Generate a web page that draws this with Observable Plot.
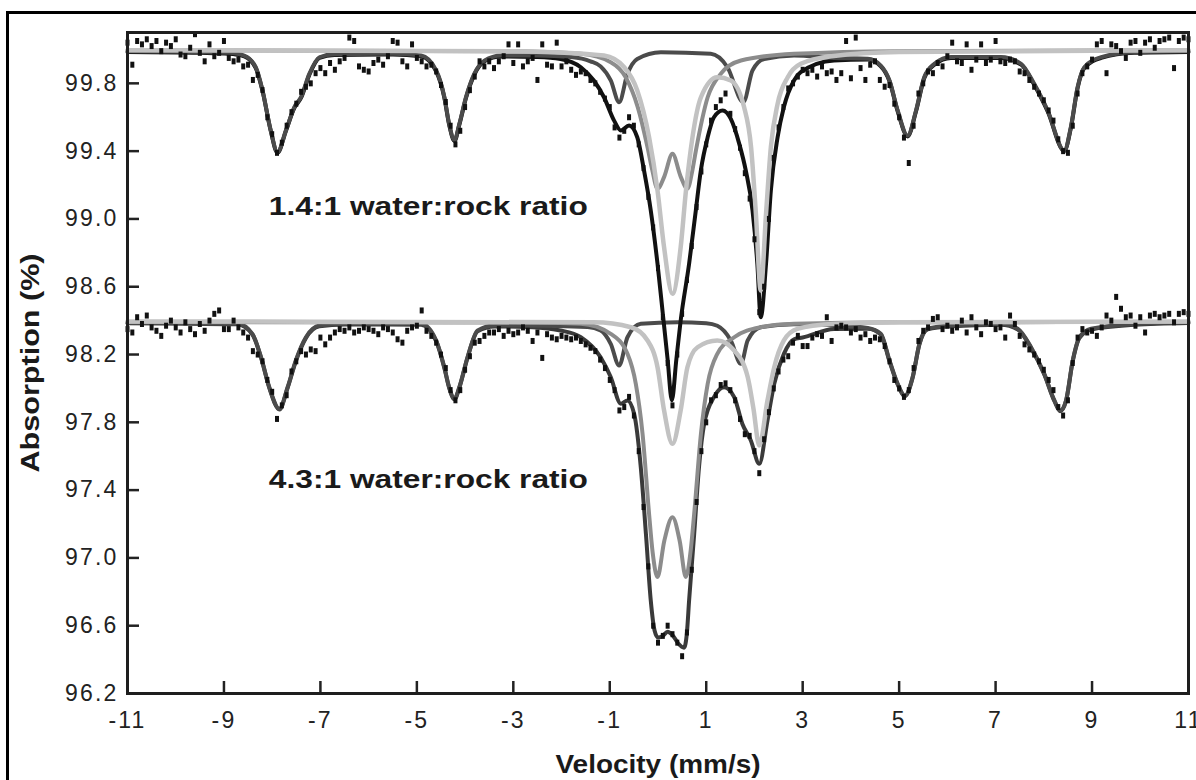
<!DOCTYPE html>
<html>
<head>
<meta charset="utf-8">
<script src="https://cdn.jsdelivr.net/npm/d3@7"></script>
<script src="https://cdn.jsdelivr.net/npm/@observablehq/plot@0.6"></script>
<style>
  html, body { margin: 0; padding: 0; background: #fff; overflow: hidden; width: 1196px; height: 780px; }
  #wrap { position: relative; width: 1196px; height: 780px; }
  #outer { position: absolute; left: 6px; top: 11px; width: 1220px; height: 800px; border: 3px solid #000; box-sizing: border-box; }
  #chart { position: absolute; left: 0; top: 0; }
  #chart svg { font-family: "Liberation Sans", Arial, sans-serif; }
  #chart g[aria-label="x-axis tick label"] text, #chart g[aria-label="y-axis tick label"] text { letter-spacing: 2.2px; }
</style>
</head>
<body>
<div id="wrap"><div id="outer"></div><div id="chart"></div></div>
<script>
// ---- Axis ticks ----
const xTicks = [-11, -9, -7, -5, -3, -1, 1, 3, 5, 7, 9, 11];
const yTicks = [96.2, 96.6, 97.0, 97.4, 97.8, 98.2, 98.6, 99.0, 99.4, 99.8];

// ---- Channel velocities (mm/s) of the measured points: -11 ... 11 in 0.1 steps ----
const velocity = d3.range(221).map(i => Math.round((-11 + i * 0.1) * 10) / 10);

// ---- Measured absorption (%), 1.4:1 water:rock ratio ----
const absorption14 = [
  100.04, 99.91, 100.05, 100.03, 100.06, 100.02, 100.05, 99.99, 100.04, 100.02, 100.06, 99.97, 99.96, 100.01, 100.09, 99.98, 99.93, 100.03, 99.96, 99.98, 100.05,
  99.95, 99.93, 99.94, 99.90, 99.91, 99.82, 99.85, 99.76, 99.60, 99.50,
  99.39, 99.45, 99.55, 99.63, 99.68, 99.75, 99.78, 99.80, 99.86, 99.89,
  99.86, 99.92, 99.88, 99.93, 99.95, 100.07, 100.05, 99.90, 99.88, 99.87, 99.92, 99.94, 99.91, 99.96, 100.05, 100.04, 99.93, 99.90, 100.03, 99.95,
  99.93, 99.90, 99.91, 99.87, 99.79, 99.69, 99.55, 99.44, 99.52, 99.66, 99.76, 99.84, 99.93, 99.90, 99.93,
  99.89, 99.93, 99.96, 100.03, 99.92, 100.03, 99.90, 99.93, 99.95, 99.82, 100.03, 99.91, 99.90, 100.04, 99.90,
  99.93, 99.88, 99.85, 99.87, 99.86, 99.82, 99.80, 99.75, 99.71, 99.66,
  99.54, 99.48, 99.52, 99.60, 99.55, 99.44, 99.30, 99.13, 98.95, 98.71,
  98.42, 98.15, 97.90, 98.20, 98.44, 98.64, 98.84, 99.07, 99.28, 99.44,
  99.58, 99.66, 99.70, 99.74, 99.62, 99.53, 99.42, 99.27, 99.12, 98.88,
  98.45, 98.60, 99.00, 99.36, 99.54, 99.66, 99.77, 99.80, 99.84, 99.88,
  99.86, 99.88, 99.84, 99.90, 99.86, 99.87, 99.82, 99.86, 100.05, 99.83, 100.07, 99.89, 99.82, 99.91, 99.93, 99.82, 99.78, 99.79, 99.68, 99.60,
  99.48, 99.33, 99.55, 99.74, 99.80, 99.87, 99.86, 99.92, 99.90, 99.96,
  100.04, 99.93, 99.92, 100.03, 99.88, 99.94, 100.03, 99.92, 99.94, 100.05, 99.93, 99.92, 99.94, 99.93, 99.87,
  99.86, 99.82, 99.78, 99.74, 99.70, 99.64, 99.58, 99.47, 99.40, 99.39, 99.55, 99.74, 99.86, 99.90, 99.94,
  100.03, 100.05, 99.86, 100.03, 100.02, 99.99, 99.95, 100.04, 100.05, 99.98, 100.04, 100.06, 100.01, 100.05, 100.06, 100.07, 99.89, 100.05, 100.07, 100.06
];

// ---- Measured absorption (%), 4.3:1 water:rock ratio ----
const absorption43 = [
  98.35, 98.33, 98.42, 98.38, 98.43, 98.36, 98.34, 98.31, 98.37, 98.40, 98.36, 98.33, 98.39, 98.35, 98.32, 98.38, 98.34, 98.40, 98.44, 98.46, 98.35,
  98.35, 98.40, 98.36, 98.33, 98.30, 98.22, 98.20, 98.16, 98.05, 97.98,
  97.82, 97.90, 97.96, 98.10, 98.16, 98.22, 98.20, 98.23, 98.22, 98.30,
  98.26, 98.30, 98.33, 98.35, 98.34, 98.36, 98.33, 98.34, 98.36, 98.35, 98.34, 98.32, 98.36, 98.35, 98.33, 98.29, 98.27, 98.34, 98.36, 98.37,
  98.46, 98.34, 98.31, 98.27, 98.20, 98.12, 97.99, 97.93, 97.99, 98.11, 98.19, 98.27, 98.28, 98.31, 98.33,
  98.33, 98.35, 98.31, 98.34, 98.32, 98.33, 98.36, 98.34, 98.28, 98.33, 98.18, 98.32, 98.30, 98.29, 98.31,
  98.30, 98.29, 98.30, 98.28, 98.26, 98.24, 98.22, 98.17, 98.12, 98.05,
  97.99, 97.87, 97.89, 97.95, 97.84, 97.63, 97.30, 96.95, 96.60, 96.50,
  96.54, 96.60, 96.55, 96.50, 96.42, 96.56, 96.93, 97.33, 97.63, 97.80,
  97.93, 97.96, 98.02, 98.03, 97.99, 97.93, 97.82, 97.73, 97.72, 97.63,
  97.50, 97.70, 97.86, 98.00, 98.10, 98.17, 98.19, 98.27, 98.31, 98.25,
  98.25, 98.30, 98.32, 98.31, 98.42, 98.28, 98.36, 98.37, 98.36, 98.33, 98.35, 98.30, 98.32, 98.28, 98.30, 98.29,
  98.25, 98.16, 98.05, 98.00, 97.95, 97.99, 98.12, 98.28, 98.34, 98.36, 98.41, 98.42, 98.35, 98.37,
  98.34, 98.36, 98.40, 98.33, 98.42, 98.36, 98.32, 98.39, 98.38, 98.35, 98.36, 98.30, 98.43, 98.38,
  98.31, 98.26, 98.23, 98.20, 98.16, 98.11, 98.05, 97.99, 97.89, 97.84, 97.93, 98.15, 98.30, 98.35, 98.33, 98.34,
  98.31, 98.36, 98.43, 98.40, 98.54, 98.47, 98.42, 98.43, 98.37, 98.42, 98.33, 98.43, 98.44, 98.42, 98.43, 98.44, 98.39, 98.44, 98.45, 98.44
];

// ---- Fitted curves: [velocity, absorption] ----
const fitTotal14 = [[-11,99.985],[-9.5,99.98],[-8.9,99.975],[-8.58,99.96],[-8.34,99.89],[-8.2,99.755],[-8.03,99.52],[-7.89,99.39],[-7.715,99.52],[-7.54,99.655],[-7.4,99.715],[-7.23,99.85],[-7.02,99.95],[-6.71,99.967],[-5.5,99.97],[-4.91,99.96],[-4.6,99.87],[-4.43,99.715],[-4.33,99.555],[-4.22,99.46],[-4.12,99.555],[-3.98,99.715],[-3.81,99.85],[-3.6,99.93],[-3.25,99.958],[-2.5,99.955],[-2.02,99.944],[-1.6,99.895],[-1.33,99.817],[-1.12,99.718],[-0.91,99.58],[-0.77,99.522],[-0.6,99.551],[-0.43,99.482],[-0.29,99.286],[-0.15,99.05],[-0.01,98.735],[0.1,98.44],[0.2,98.17],[0.287,97.93],[0.38,98.17],[0.47,98.4],[0.645,98.735],[0.784,99.05],[0.888,99.286],[1.03,99.482],[1.16,99.6],[1.34,99.64],[1.51,99.59],[1.685,99.443],[1.82,99.286],[1.96,99.05],[2.06,98.735],[2.13,98.42],[2.24,98.735],[2.34,99.168],[2.48,99.482],[2.61,99.66],[2.82,99.817],[2.96,99.866],[3.65,99.935],[4.35,99.94],[4.62,99.9],[4.8,99.812],[4.97,99.635],[5.176,99.487],[5.35,99.635],[5.52,99.83],[5.73,99.91],[6.075,99.95],[7.11,99.95],[7.53,99.91],[7.8,99.792],[8.08,99.635],[8.425,99.4],[8.56,99.536],[8.7,99.772],[8.84,99.89],[9.19,99.95],[9.87,99.98],[11,99.985]];
const sextet14 = [[-11,99.99],[-9.5,99.985],[-8.9,99.98],[-8.58,99.964],[-8.34,99.895],[-8.2,99.758],[-8.03,99.522],[-7.89,99.394],[-7.715,99.522],[-7.54,99.66],[-7.4,99.72],[-7.23,99.856],[-7.02,99.954],[-6.71,99.972],[-5.5,99.975],[-4.91,99.964],[-4.6,99.876],[-4.43,99.72],[-4.33,99.561],[-4.22,99.465],[-4.12,99.56],[-3.98,99.72],[-3.81,99.856],[-3.6,99.934],[-3.25,99.964],[-2.5,99.965],[-1.8,99.955],[-1.4,99.93],[-1.19,99.9],[-0.98,99.817],[-0.806,99.689],[-0.633,99.856],[-0.43,99.944],[0.06,99.984],[1.095,99.974],[1.44,99.895],[1.77,99.689],[1.96,99.876],[2.2,99.944],[2.82,99.965],[3.65,99.95],[4.35,99.945],[4.62,99.905],[4.8,99.817],[4.97,99.64],[5.176,99.492],[5.35,99.64],[5.52,99.836],[5.73,99.915],[6.075,99.955],[7.11,99.955],[7.53,99.915],[7.8,99.797],[8.08,99.64],[8.425,99.404],[8.56,99.541],[8.7,99.777],[8.84,99.895],[9.19,99.955],[9.87,99.984],[11,99.99]];
const doubletA14 = [[-11,99.995],[-3,99.99],[-1.6,99.974],[-0.98,99.925],[-0.67,99.836],[-0.42,99.66],[-0.217,99.423],[-0.12,99.29],[-0.011,99.178],[0.13,99.25],[0.3,99.384],[0.47,99.25],[0.61,99.178],[0.715,99.29],[0.784,99.4],[1.03,99.718],[1.3,99.856],[1.72,99.935],[2.82,99.974],[5,99.99],[11,99.995]];
const doubletB14 = [[-11,99.995],[-3,99.99],[-2.02,99.982],[-1.12,99.964],[-0.7,99.895],[-0.43,99.758],[-0.185,99.482],[-0.01,99.168],[0.126,98.833],[0.3,98.558],[0.47,98.833],[0.58,99.168],[0.715,99.482],[0.89,99.718],[1.23,99.836],[1.51,99.817],[1.785,99.66],[1.93,99.423],[2.03,99.03],[2.13,98.578],[2.24,99.03],[2.34,99.423],[2.48,99.679],[2.69,99.836],[2.96,99.915],[3.6,99.96],[5,99.985],[11,99.995]];

const fitTotal43 = [[-11,98.385],[-8.72,98.378],[-8.41,98.318],[-8.23,98.18],[-8.06,98.003],[-7.85,97.876],[-7.68,98.003],[-7.51,98.16],[-7.3,98.298],[-7.02,98.367],[-6.5,98.377],[-4.91,98.376],[-4.6,98.279],[-4.43,98.12],[-4.33,98.003],[-4.22,97.935],[-4.12,98.003],[-3.95,98.18],[-3.74,98.337],[-3.39,98.366],[-2.7,98.363],[-2.02,98.342],[-1.6,98.302],[-1.19,98.184],[-0.98,98.067],[-0.77,97.909],[-0.633,97.929],[-0.495,97.85],[-0.357,97.535],[-0.25,97.14],[-0.15,96.749],[-0.07,96.57],[0,96.53],[0.1,96.54],[0.2,96.565],[0.3,96.545],[0.42,96.495],[0.54,96.47],[0.6,96.56],[0.645,96.749],[0.75,97.14],[0.85,97.535],[0.957,97.79],[1.16,97.949],[1.37,98.007],[1.58,97.949],[1.75,97.79],[1.925,97.693],[2.1,97.555],[2.27,97.81],[2.41,98.027],[2.61,98.204],[2.82,98.29],[3,98.3],[3.65,98.35],[4.35,98.352],[4.62,98.318],[4.8,98.16],[4.97,98.023],[5.12,97.954],[5.28,98.063],[5.42,98.259],[5.59,98.348],[6.075,98.367],[7.11,98.376],[7.46,98.348],[7.735,98.239],[8.01,98.082],[8.22,97.925],[8.34,97.866],[8.46,97.925],[8.6,98.161],[8.74,98.298],[8.98,98.348],[9.88,98.376],[11,98.386]];
const sextet43 = [[-11,98.388],[-8.72,98.381],[-8.41,98.322],[-8.23,98.184],[-8.06,98.007],[-7.85,97.88],[-7.68,98.007],[-7.51,98.165],[-7.3,98.302],[-7.02,98.371],[-6.5,98.381],[-4.91,98.381],[-4.6,98.283],[-4.43,98.125],[-4.33,98.007],[-4.22,97.939],[-4.12,98.007],[-3.95,98.184],[-3.74,98.342],[-3.39,98.371],[-2.7,98.371],[-1.46,98.362],[-1.19,98.342],[-0.98,98.263],[-0.806,98.135],[-0.633,98.302],[-0.357,98.381],[0.4,98.39],[1,98.385],[1.23,98.37],[1.51,98.283],[1.72,98.145],[1.86,98.283],[2.13,98.361],[2.82,98.378],[3.65,98.372],[4.35,98.356],[4.62,98.322],[4.8,98.165],[4.97,98.027],[5.12,97.958],[5.28,98.067],[5.42,98.263],[5.59,98.352],[6.075,98.371],[7.11,98.38],[7.46,98.352],[7.735,98.243],[8.01,98.086],[8.22,97.929],[8.34,97.87],[8.46,97.929],[8.6,98.165],[8.74,98.302],[8.98,98.352],[9.88,98.38],[11,98.39]];
const doubletA43 = [[-11,98.392],[-2.5,98.388],[-1.6,98.381],[-0.98,98.322],[-0.633,98.204],[-0.46,98.027],[-0.32,97.732],[-0.185,97.26],[-0.11,97.03],[-0.011,96.887],[0.13,97.1],[0.3,97.24],[0.45,97.1],[0.577,96.887],[0.68,97.05],[0.75,97.26],[0.89,97.732],[1.03,98.027],[1.23,98.204],[1.58,98.302],[2.13,98.361],[2.82,98.381],[5,98.39],[11,98.392]];
const doubletB43 = [[-11,98.395],[-1.33,98.39],[-0.56,98.361],[-0.217,98.283],[-0.01,98.125],[0.126,97.87],[0.3,97.673],[0.47,97.87],[0.61,98.125],[0.82,98.243],[1.23,98.283],[1.58,98.224],[1.86,98.067],[1.98,97.88],[2.1,97.663],[2.27,97.929],[2.41,98.125],[2.61,98.283],[2.89,98.351],[3.6,98.38],[5,98.39],[11,98.395]];

// ---- Annotations ----
const sampleLabels = ["1.4:1 water:rock ratio", "4.3:1 water:rock ratio"];
const sampleLabelVelocity = [-8.07, -8.07];
const sampleLabelAbsorption = [99.07, 97.46];
const xTitle = "Velocity (mm/s)";
const yTitle = "Absorption (%)";

// ---------------------------------------------------------------
const pts14 = absorption14.map((a, i) => ({v: velocity[i], a}));
const pts43 = absorption43.map((a, i) => ({v: velocity[i], a}));
const labels = sampleLabels.map((t, i) => ({t, v: sampleLabelVelocity[i], a: sampleLabelAbsorption[i]}));

const rectSymbol = { draw(ctx) { ctx.rect(-2, -3, 4, 6); } };

const C = {
  total14: "#111111",
  total43: "#3a3a3a",
  sextet: "#4b4b4b",
  dA: "#8c8c8c",
  dB: "#c2c2c2",
  pts: "#111111"
};
const line = (data, stroke, sw) => Plot.line(data, {x: d => d[0], y: d => d[1], stroke, strokeWidth: sw, curve: "monotone-x", strokeLinejoin: "round"});

const chart = Plot.plot({
  width: 1196,
  height: 780,
  marginLeft: 127,
  marginRight: 8,
  marginTop: 32,
  marginBottom: 87,
  style: {background: "transparent", fontFamily: "'Liberation Sans', Arial, sans-serif"},
  x: {domain: [-11, 11]},
  y: {domain: [96.2, 100.1]},
  marks: [
    // lower spectrum
    line(fitTotal43, C.total43, 4),
    line(sextet43, C.sextet, 4),
    line(doubletA43, C.dA, 4),
    line(doubletB43, C.dB, 4.5),
    Plot.dot(pts43, {x: "v", y: "a", symbol: rectSymbol, fill: C.pts, stroke: "none"}),
    // upper spectrum
    line(fitTotal14, C.total14, 4),
    line(sextet14, C.sextet, 4),
    line(doubletA14, C.dA, 4),
    line(doubletB14, C.dB, 4.5),
    Plot.dot(pts14, {x: "v", y: "a", symbol: rectSymbol, fill: C.pts, stroke: "none"}),
    // labels
    Plot.text(labels, {x: "v", y: "a", text: "t", textAnchor: "start", lineAnchor: "middle", fontSize: 26, fontWeight: "bold", fill: "#1a1a1a"}),
    // axes
    Plot.axisX({ticks: xTicks, tickFormat: d => String(d), tickSize: -12, tickPadding: 30, strokeWidth: 2.5, stroke: "#222", fontSize: 23, fill: "#222", label: null}),
    Plot.axisY({ticks: yTicks, tickFormat: d => d.toFixed(1), tickSize: -12, tickPadding: 21, strokeWidth: 2.5, stroke: "#222", fontSize: 23, fill: "#222", label: null}),
    Plot.text([xTitle], {frameAnchor: "bottom", dy: 71, textAnchor: "middle", lineAnchor: "middle", fontSize: 26, fontWeight: "bold", fill: "#1a1a1a"}),
    Plot.text([yTitle], {frameAnchor: "left", dx: -97, rotate: -90, textAnchor: "middle", lineAnchor: "middle", fontSize: 26, fontWeight: "bold", fill: "#1a1a1a"}),
    Plot.frame({stroke: "#1e1e1e", strokeWidth: 3})
  ]
});

// stretch the bold texts to the widths they have in the figure
const stretch = {};
stretch[sampleLabels[0]] = 319;
stretch[sampleLabels[1]] = 319;
stretch[xTitle] = 205;
stretch[yTitle] = 219;
chart.querySelectorAll("text").forEach(t => {
  const w = stretch[t.textContent];
  if (w) { t.setAttribute("textLength", w); t.setAttribute("lengthAdjust", "spacingAndGlyphs"); }
});
document.getElementById("chart").appendChild(chart);
</script>
</body>
</html>
